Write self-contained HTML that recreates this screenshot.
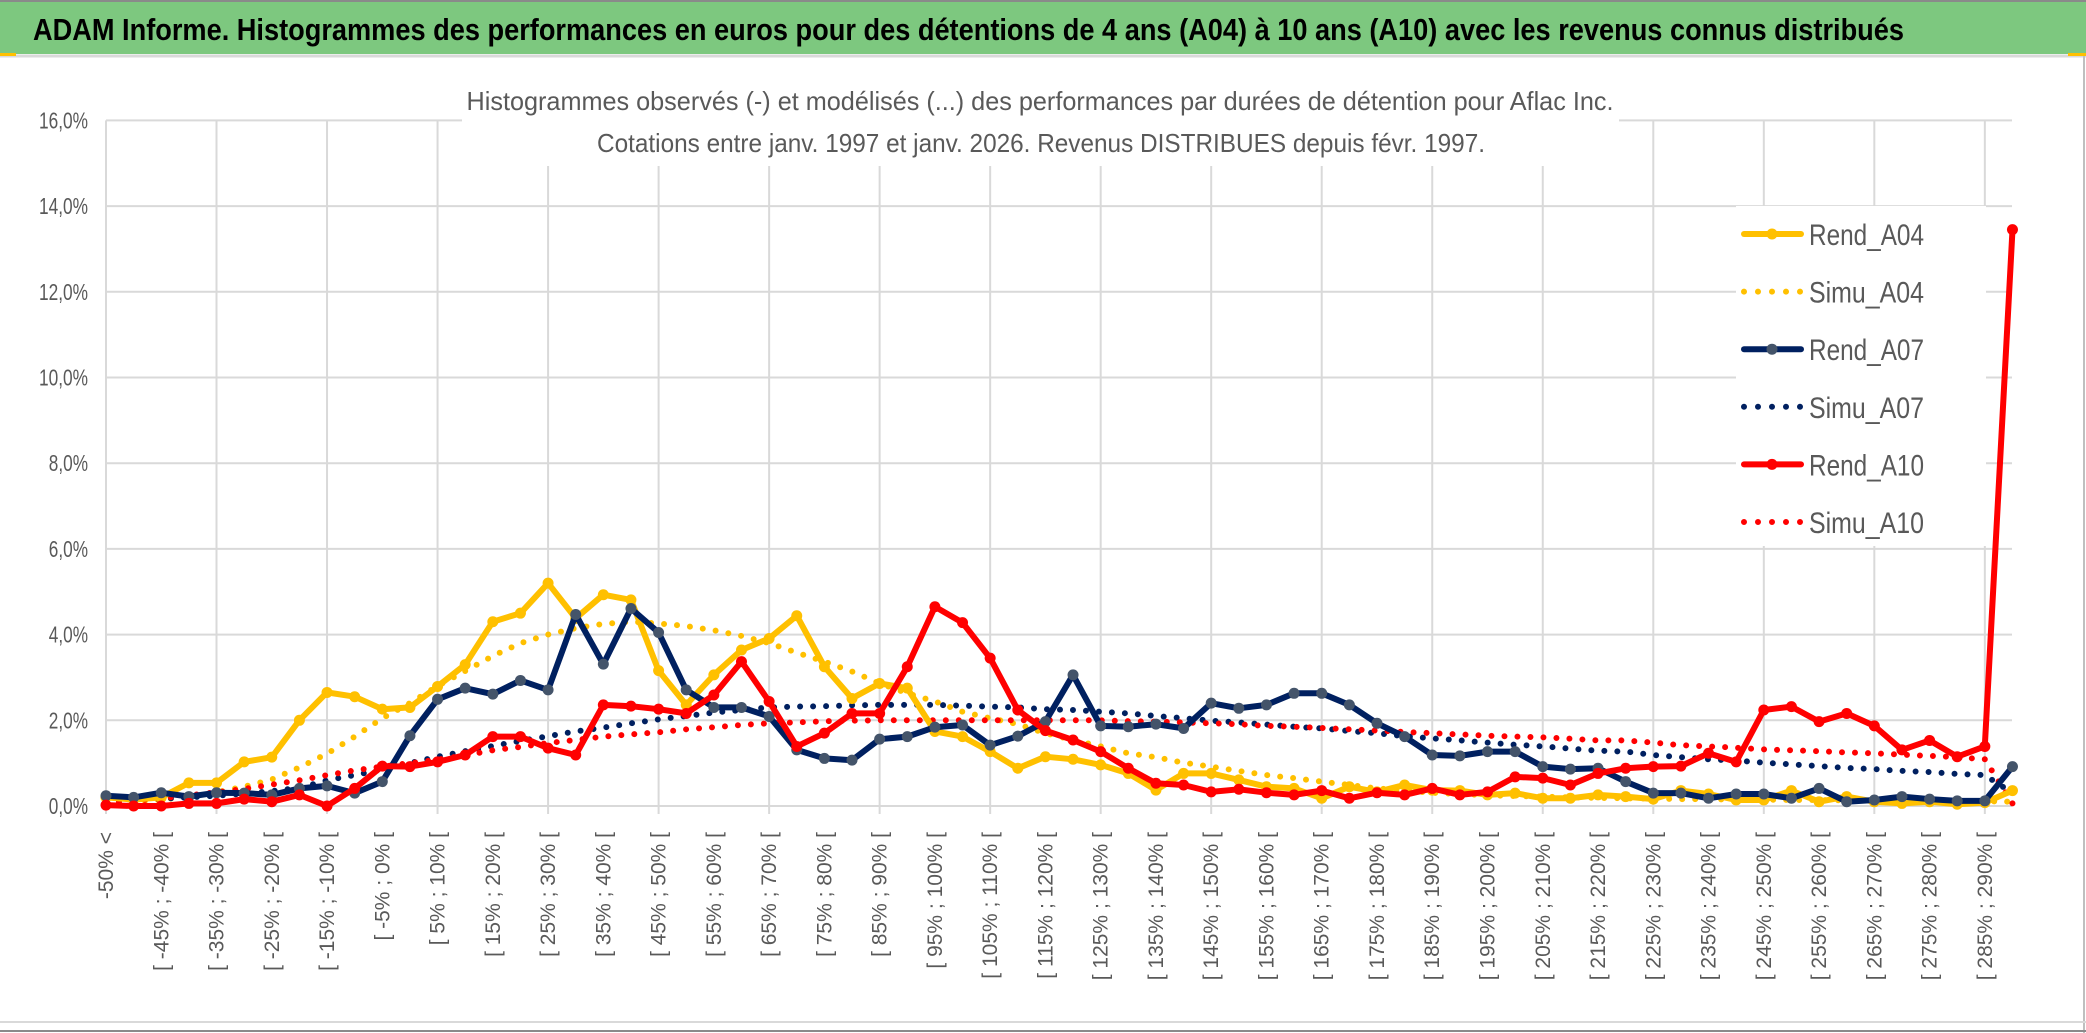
<!DOCTYPE html>
<html><head><meta charset="utf-8"><style>
html,body{margin:0;padding:0;background:#fff;}
svg{display:block;}
text{font-family:"Liberation Sans Narrow","Liberation Sans",sans-serif;}
</style></head><body>
<svg id="chart" width="2086" height="1033" viewBox="0 0 2086 1033" xmlns="http://www.w3.org/2000/svg">
<rect x="0" y="0" width="2086" height="1033" fill="#fff"/>
<rect x="0" y="2" width="2086" height="52" fill="#7DC87F"/>
<line x1="0" y1="1" x2="2086" y2="1" stroke="#8a8a8a" stroke-width="2"/>
<line x1="0" y1="56" x2="2086" y2="56" stroke="#d9d9d9" stroke-width="3"/>
<rect x="0" y="53" width="16" height="3" fill="#FFC000"/>
<rect x="2068" y="53" width="18" height="3" fill="#FFC000"/>
<line x1="2084" y1="56" x2="2084" y2="1033" stroke="#bfbfbf" stroke-width="2"/>
<line x1="0" y1="1022" x2="2086" y2="1022" stroke="#d9d9d9" stroke-width="2"/>
<line x1="0" y1="1031" x2="2086" y2="1031" stroke="#8a8a8a" stroke-width="2"/>
<text x="33" y="40" font-size="31" font-weight="bold" fill="#000" textLength="1871" lengthAdjust="spacingAndGlyphs">ADAM Informe. Histogrammes des performances en euros pour des détentions de 4 ans (A04) à 10 ans (A10) avec les revenus connus distribués</text>
<g id="grid"></g>
<rect x="462" y="70" width="1157" height="96" fill="#fff"/>
<text x="1040" y="110" font-size="26" fill="#595959" text-anchor="middle" textLength="1147" lengthAdjust="spacingAndGlyphs">Histogrammes observés (-) et modélisés (...) des performances par durées de détention pour Aflac Inc.</text>
<text x="1041" y="152" font-size="26" fill="#595959" text-anchor="middle" textLength="888" lengthAdjust="spacingAndGlyphs">Cotations entre janv. 1997 et janv. 2026. Revenus DISTRIBUES depuis févr. 1997.</text>
<g id="yaxis"></g>
<g id="xaxis"></g>
<g id="series"></g>
<g id="legend"></g>
</svg>
<script>
const categories = (function(){const a=["-50% <"];for(let k=1;k<70;k++){const lo=-50+5*(k-1);a.push("[ "+lo+"% ; "+(lo+5)+"% [");}return a;})();
const yTicks = [0,2,4,6,8,10,12,14,16];
const yTickLabels = ["0,0%","2,0%","4,0%","6,0%","8,0%","10,0%","12,0%","14,0%","16,0%"];
const rendA04 = [0.2,0.15,0.2,0.54,0.54,1.03,1.14,2.0,2.65,2.55, 2.26,2.3,2.79,3.3,4.3,4.5,5.2,4.38,4.93,4.81, 3.16,2.36,3.06,3.64,3.91,4.44,3.25,2.51,2.86,2.75, 1.74,1.62,1.27,0.88,1.15,1.09,0.96,0.76,0.37,0.76, 0.76,0.61,0.45,0.41,0.18,0.45,0.33,0.49,0.37,0.36, 0.26,0.3,0.18,0.18,0.26,0.22,0.16,0.36,0.28,0.14, 0.14,0.36,0.1,0.22,0.1,0.06,0.1,0.04,0.08,0.36];
const simuA04 = [0.07,0.1,0.15,0.22,0.32,0.45,0.62,0.9,1.22,1.62, 2.05,2.4,2.8,3.15,3.5,3.8,4.0,4.15,4.25,4.3, 4.26,4.2,4.1,3.97,3.8,3.58,3.37,3.14,2.86,2.63, 2.44,2.2,2.05,1.91,1.7,1.54,1.39,1.23,1.14,1.01, 0.92,0.82,0.72,0.65,0.57,0.49,0.41,0.36,0.31,0.28, 0.25,0.23,0.22,0.2,0.19,0.18,0.17,0.16,0.16,0.15, 0.15,0.14,0.14,0.13,0.13,0.12,0.12,0.12,0.11,0.1];
const rendA07 = [0.24,0.2,0.31,0.22,0.31,0.3,0.26,0.41,0.47,0.3, 0.57,1.64,2.49,2.75,2.61,2.93,2.71,4.47,3.31,4.61, 4.05,2.71,2.3,2.3,2.09,1.31,1.11,1.07,1.56,1.62, 1.84,1.89,1.42,1.63,1.97,3.06,1.87,1.85,1.91,1.81, 2.4,2.28,2.36,2.63,2.63,2.36,1.93,1.62,1.19,1.17, 1.27,1.27,0.92,0.86,0.88,0.57,0.3,0.3,0.18,0.28, 0.28,0.18,0.41,0.1,0.14,0.22,0.16,0.12,0.12,0.92];
const simuA07 = [0.12,0.14,0.17,0.2,0.24,0.29,0.35,0.42,0.6,0.72, 0.85,1.0,1.15,1.28,1.4,1.52,1.63,1.74,1.83,1.93, 2.02,2.1,2.18,2.24,2.3,2.32,2.33,2.35,2.36,2.36, 2.36,2.34,2.32,2.3,2.26,2.24,2.2,2.16,2.1,2.05, 1.99,1.95,1.9,1.85,1.81,1.75,1.7,1.63,1.58,1.53, 1.48,1.43,1.39,1.34,1.29,1.27,1.19,1.14,1.09,1.06, 1.01,0.97,0.93,0.89,0.86,0.82,0.79,0.75,0.72,0.3];
const rendA10 = [0.02,0,0,0.06,0.06,0.16,0.1,0.26,0,0.41, 0.93,0.92,1.03,1.19,1.62,1.62,1.35,1.19,2.36,2.33, 2.26,2.16,2.59,3.37,2.44,1.39,1.7,2.16,2.16,3.25, 4.65,4.28,3.45,2.24,1.76,1.54,1.27,0.88,0.53,0.49, 0.33,0.39,0.31,0.26,0.36,0.18,0.31,0.26,0.41,0.26, 0.33,0.68,0.65,0.49,0.76,0.88,0.92,0.93,1.23,1.03, 2.24,2.32,1.97,2.16,1.87,1.31,1.53,1.15,1.39,13.45];
const simuA10 = [0.08,0.12,0.18,0.25,0.32,0.4,0.5,0.6,0.72,0.83, 0.92,1.0,1.08,1.18,1.3,1.38,1.47,1.54,1.62,1.67, 1.72,1.79,1.84,1.89,1.93,1.95,1.98,1.99,2.0,2.0, 2.0,2.0,2.0,2.0,2.0,2.0,2.0,1.98,1.97,1.95, 1.93,1.91,1.87,1.85,1.82,1.79,1.76,1.73,1.7,1.67, 1.64,1.62,1.6,1.57,1.53,1.53,1.48,1.42,1.39,1.36, 1.32,1.3,1.28,1.25,1.23,1.2,1.17,1.14,1.09,0.06];

const NS="http://www.w3.org/2000/svg";
const X0=106, DX=27.63, Y0=806, PPU=42.85;
function xs(i){return X0+i*DX;}
function ys(v){return Y0-v*PPU;}
function mk(tag,attrs,parent){const e=document.createElementNS(NS,tag);for(const k in attrs)e.setAttribute(k,attrs[k]);parent.appendChild(e);return e;}

const grid=document.getElementById('grid');
yTicks.forEach(v=>{
  const l=mk('line',{x1:X0,x2:2012,y1:ys(v),y2:ys(v),stroke:'#d9d9d9','stroke-width':2},grid);
  
  
});
for(let i=0;i<categories.length;i+=4){
  const l=mk('line',{x1:xs(i),x2:xs(i),y1:ys(16),y2:Y0+8,stroke:'#d9d9d9','stroke-width':2},grid);
  
  
}
const ya=document.getElementById('yaxis');
yTicks.forEach((v,k)=>{
  const t=mk('text',{x:88,y:ys(v)+8,'font-size':23,fill:'#595959','text-anchor':'end',textLength:(yTickLabels[k].length*9.8).toFixed(1),lengthAdjust:'spacingAndGlyphs'},ya);
  t.textContent=yTickLabels[k];
  
  
});
const xa=document.getElementById('xaxis');
categories.forEach((c,i)=>{
  if(i%2!==0)return;
  const x=xs(i)+7,y=832;
  const t=mk('text',{x:x,y:y,'font-size':21,fill:'#595959','text-anchor':'end',transform:'rotate(-90 '+x+' '+y+')',style:'font-family:"Liberation Sans",sans-serif'},xa);
  t.textContent=c;
  
  
});
const sg=document.getElementById('series');
function pts(arr){return arr.map((v,i)=>xs(i).toFixed(1)+','+ys(v).toFixed(1)).join(' ');}
function dotted(arr,color,name){
  const p=mk('polyline',{points:pts(arr),fill:'none',stroke:color,'stroke-width':6,'stroke-linecap':'round','stroke-dasharray':'0 13'},sg);
  
  
}
function solid(arr,color,mcolor,name){
  const p=mk('polyline',{points:pts(arr),fill:'none',stroke:color,'stroke-width':6,'stroke-linejoin':'round'},sg);
  
  
  arr.forEach((v,i)=>{
    const c=mk('circle',{cx:xs(i),cy:ys(v),r:5.5,fill:mcolor},sg);
    
    
  });
}
dotted(simuA04,'#FFC000','simu-a04-line');
dotted(simuA07,'#002060','simu-a07-line');
dotted(simuA10,'#FF0000','simu-a10-line');
solid(rendA04,'#FFC000','#FFC000','rend-a04-line');
solid(rendA07,'#002060','#44546A','rend-a07-line');
solid(rendA10,'#FF0000','#FF0000','rend-a10-line');

const lg=document.getElementById('legend');
const lbg=mk('rect',{x:1736,y:206,width:250,height:340,fill:'#fff'},lg);


const legendNames=['Rend_A04','Simu_A04','Rend_A07','Simu_A07','Rend_A10','Simu_A10'];
const legendColors=['#FFC000','#FFC000','#002060','#002060','#FF0000','#FF0000'];
const legendMarkers=['#FFC000',null,'#44546A',null,'#FF0000',null];
legendNames.forEach((n,k)=>{
  const y=234+k*57.6;
  const g=mk('g',{},lg);
  
  
  if(legendMarkers[k]){
    mk('line',{x1:1744,x2:1801,y1:y,y2:y,stroke:legendColors[k],'stroke-width':6,'stroke-linecap':'round'},g);
    mk('circle',{cx:1772,cy:y,r:5.5,fill:legendMarkers[k]},g);
  } else {
    mk('line',{x1:1744,x2:1801,y1:y,y2:y,stroke:legendColors[k],'stroke-width':6,'stroke-linecap':'round','stroke-dasharray':'0 14'},g);
  }
  const t=mk('text',{x:1809,y:y+11,'font-size':30,fill:'#595959',textLength:115,lengthAdjust:'spacingAndGlyphs'},g);
  t.textContent=n;
});
</script>
</body></html>
